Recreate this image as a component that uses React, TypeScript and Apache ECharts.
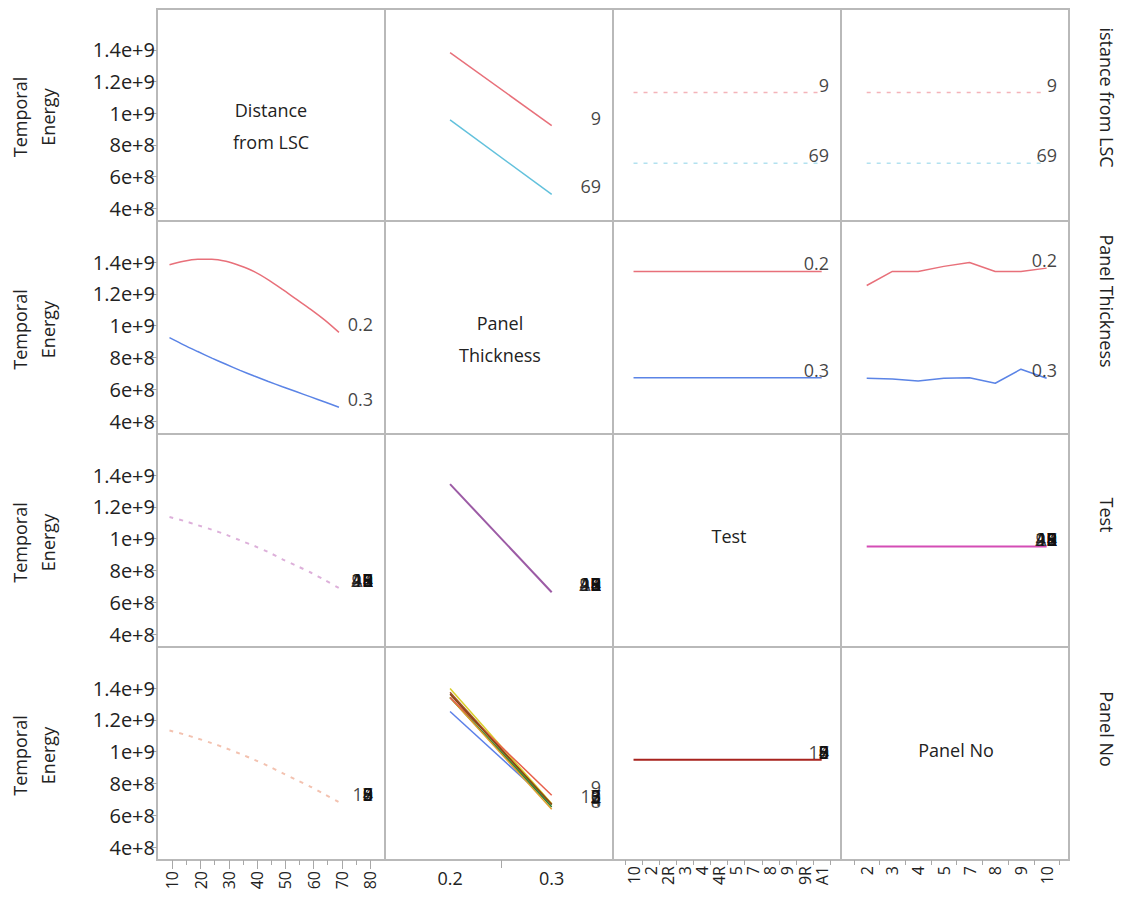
import React, { useEffect, useRef } from 'react';
import * as echarts from 'echarts';

// ---------- tick labels / categories ----------
const yTickValues = [4e8, 6e8, 8e8, 1e9, 1.2e9, 1.4e9];
const yTickLabels = ['4e+8', '6e+8', '8e+8', '1e+9', '1.2e+9', '1.4e+9'];
const distanceTicks = [10, 20, 30, 40, 50, 60, 70, 80];
const distanceMinorTicks = [15, 25, 35, 45, 55, 65, 75];
const thicknessTicks = [0.2, 0.3];
const thicknessMinorTicks = [0.25];
const testLevels = ['10', '2', '2R', '3', '4', '4R', '5', '7', '8', '9', '9R', 'A1'];
const panelLevels = ['2', '3', '4', '5', '7', '8', '9', '10'];
const distanceLevels = ['9', '69'];
const thicknessLevels = ['0.2', '0.3'];
const thicknessValues = [0.2, 0.3];
const distanceGrid = [9, 14, 19, 24, 29, 34, 39, 44, 49, 54, 59, 64, 69];

// ---------- row 1: traces by Distance from LSC ----------
const dist9ByThickness = [1.383e9, 9.22e8];
const dist69ByThickness = [9.58e8, 4.88e8];
const dist9ByTest = [1.131e9, 1.131e9, 1.131e9, 1.131e9, 1.131e9, 1.131e9, 1.131e9, 1.131e9, 1.131e9, 1.131e9, 1.131e9, 1.131e9];
const dist69ByTest = [6.85e8, 6.85e8, 6.85e8, 6.85e8, 6.85e8, 6.85e8, 6.85e8, 6.85e8, 6.85e8, 6.85e8, 6.85e8, 6.85e8];
const dist9ByPanel = [1.131e9, 1.131e9, 1.131e9, 1.131e9, 1.131e9, 1.131e9, 1.131e9, 1.131e9];
const dist69ByPanel = [6.85e8, 6.85e8, 6.85e8, 6.85e8, 6.85e8, 6.85e8, 6.85e8, 6.85e8];

// ---------- row 2: traces by Panel Thickness ----------
const thick02ByDistance = [1.383e9, 1.405e9, 1.417e9, 1.418e9, 1.405e9, 1.377e9, 1.34e9, 1.288e9, 1.228e9, 1.165e9, 1.103e9, 1.035e9, 9.58e8];
const thick03ByDistance = [9.25e8, 8.8e8, 8.38e8, 7.97e8, 7.58e8, 7.2e8, 6.84e8, 6.5e8, 6.17e8, 5.85e8, 5.53e8, 5.21e8, 4.88e8];
const thick02ByTest = [1.341e9, 1.341e9, 1.341e9, 1.341e9, 1.341e9, 1.341e9, 1.341e9, 1.341e9, 1.341e9, 1.341e9, 1.341e9, 1.341e9];
const thick03ByTest = [6.74e8, 6.74e8, 6.74e8, 6.74e8, 6.74e8, 6.74e8, 6.74e8, 6.74e8, 6.74e8, 6.74e8, 6.74e8, 6.74e8];
const thick02ByPanel = [1.253e9, 1.341e9, 1.341e9, 1.373e9, 1.397e9, 1.341e9, 1.341e9, 1.362e9];
const thick03ByPanel = [6.7e8, 6.66e8, 6.53e8, 6.7e8, 6.74e8, 6.39e8, 7.27e8, 6.7e8];

// ---------- row 3: traces by Test ----------
const testByDistance = [1.137e9, 1.113e9, 1.085e9, 1.057e9, 1.026e9, 9.9e8, 9.55e8, 9.16e8, 8.71e8, 8.3e8, 7.88e8, 7.4e8, 6.9e8];
const testByThickness = [1.343e9, 6.64e8];
const testByPanel = [9.51e8, 9.51e8, 9.51e8, 9.51e8, 9.51e8, 9.51e8, 9.51e8, 9.51e8];

// ---------- row 4: traces by Panel No ----------
const panelByDistance = [1.133e9, 1.11e9, 1.083e9, 1.054e9, 1.022e9, 9.87e8, 9.5e8, 9.1e8, 8.66e8, 8.23e8, 7.8e8, 7.32e8, 6.83e8];
const panelByTest = [9.49e8, 9.49e8, 9.49e8, 9.49e8, 9.49e8, 9.49e8, 9.49e8, 9.49e8, 9.49e8, 9.49e8, 9.49e8, 9.49e8];
const panelColors = ['#5B7FE8', '#4CA84C', '#2E7D32', '#A0522D', '#D9CF2A', '#E0A030', '#E8604C', '#8B4513'];

// ---------- layout ----------
const FONT = '"Open Sans", "Noto Sans", sans-serif';
const colLeft = [157, 385, 613, 841];
const colWidth = 228;
const rowTop = [9, 221, 434, 647];
const rowHeight = [212, 213, 213, 213];
const yMin = 3.2e8;
const yMax = 1.658e9;
const xRange = [
  [4.58, 85.3],
  [0.136, 0.3603],
  [-1.2, 12.13],
  [-1.0, 7.87],
];
const RED = '#E8707A';
const CYAN = '#62C1DC';
const BLUE = '#5B84E6';

const idx = (arr: any[]) => arr.map((_, i) => i);

export default function App() {
  const ref = useRef<HTMLDivElement>(null);
  useEffect(() => {
    if (!ref.current) return;
    const chart = echarts.init(ref.current, undefined, { renderer: 'svg' });

    const grids: any[] = [];
    const xAxes: any[] = [];
    const yAxes: any[] = [];
    for (let r = 0; r < 4; r++) {
      for (let c = 0; c < 4; c++) {
        const g = r * 4 + c;
        grids.push({
          left: colLeft[c], top: rowTop[r], width: colWidth, height: rowHeight[r],
          show: true, borderColor: '#b9b9b9', borderWidth: 2, backgroundColor: '#fff',
        });
        const bottom = r === 3;
        let tickVals: number[] = [];
        let labelVals: number[] = [];
        let fmt: any = (v: number) => String(v);
        let rotate = 0;
        let margin = 6;
        let fontSize = 16;
        let tickLen = 5;
        if (c === 0) { tickVals = distanceTicks; labelVals = distanceTicks; rotate = 90; margin = 11; tickLen = 9; }
        if (c === 1) { tickVals = thicknessMinorTicks; labelVals = thicknessTicks; rotate = 0; margin = 9; fontSize = 18; tickLen = 8; fmt = (v: number) => v.toFixed(1); }
        if (c === 2) { tickVals = testLevels.map((_, i) => i - 0.5).concat([testLevels.length - 0.5]); labelVals = idx(testLevels); rotate = 90; fmt = (v: number) => testLevels[Math.round(v)]; }
        if (c === 3) { tickVals = panelLevels.map((_, i) => i - 0.5).concat([panelLevels.length - 0.5]); labelVals = idx(panelLevels); rotate = 90; fmt = (v: number) => panelLevels[Math.round(v)]; }
        xAxes.push({
          gridIndex: g, type: 'value', position: 'bottom', min: xRange[c][0], max: xRange[c][1], show: bottom,
          axisLine: { show: false }, splitLine: { show: false },
          axisTick: { show: bottom, customValues: tickVals, length: tickLen, lineStyle: { color: '#a8a8a8', width: 1 } },
          axisLabel: { show: bottom, customValues: labelVals, formatter: fmt, rotate, margin, fontSize, fontFamily: FONT, color: '#222' },
        });
        yAxes.push({
          gridIndex: g, type: 'value', min: yMin, max: yMax, show: c === 0,
          axisLine: { show: false }, splitLine: { show: false },
          axisTick: { show: c === 0, customValues: yTickValues, length: 9, lineStyle: { color: '#a8a8a8', width: 1 } },
          axisLabel: {
            show: c === 0, customValues: yTickValues, margin: 2, fontSize: 20, fontFamily: FONT, color: '#222',
            formatter: (v: number) => yTickLabels[yTickValues.indexOf(v)] ?? '',
          },
        });
      }
    }
    // overlay grid (same rect as bottom-left panel) carrying the minor ticks of the distance axis
    grids.push({ left: colLeft[0], top: rowTop[3], width: colWidth, height: rowHeight[3], show: false });
    xAxes.push({
      gridIndex: 16, type: 'value', position: 'bottom', min: xRange[0][0], max: xRange[0][1], show: true,
      axisLine: { show: false }, splitLine: { show: false }, axisLabel: { show: false },
      axisTick: { show: true, customValues: distanceMinorTicks, length: 5, lineStyle: { color: '#a8a8a8', width: 1 } },
    });
    yAxes.push({ gridIndex: 16, type: 'value', min: yMin, max: yMax, show: false });

    const series: any[] = [];
    const line = (g: number, data: number[][], color: string, opts: any = {}) => {
      series.push({
        type: 'line', xAxisIndex: g, yAxisIndex: g, data, symbol: 'none', silent: true,
        smooth: opts.smooth ?? false,
        lineStyle: { color, width: opts.width ?? 1.5, type: opts.type ?? 'solid' },
        z: 2,
      });
    };
    const labels = (g: number, c: number, items: { name: string; value: number }[]) => {
      series.push({
        type: 'scatter', xAxisIndex: g, yAxisIndex: g, symbolSize: 0, silent: true, clip: false,
        data: items.map((it) => ({ name: it.name, value: [xRange[c][1], it.value] })),
        label: {
          show: true, position: 'left', distance: 12, offset: [0, -8], formatter: '{b}',
          fontSize: 18, fontFamily: FONT, color: '#111',
        },
        z: 5,
      });
    };
    const zipX = (xs: number[], ys: number[]) => ys.map((y, i) => [xs[i], y]);
    const testIdx = idx(testLevels);
    const panelIdx = idx(panelLevels);
    const dots = [4, 6];

    // Row 1
    line(1, zipX(thicknessValues, dist9ByThickness), RED);
    line(1, zipX(thicknessValues, dist69ByThickness), CYAN);
    labels(1, 1, [{ name: distanceLevels[0], value: dist9ByThickness[1] }, { name: distanceLevels[1], value: dist69ByThickness[1] }]);
    line(2, zipX(testIdx, dist9ByTest), '#F4B3B9', { type: dots });
    line(2, zipX(testIdx, dist69ByTest), '#B2E1EF', { type: dots });
    labels(2, 2, [{ name: distanceLevels[0], value: dist9ByTest[11] }, { name: distanceLevels[1], value: dist69ByTest[11] }]);
    line(3, zipX(panelIdx, dist9ByPanel), '#F4B3B9', { type: dots });
    line(3, zipX(panelIdx, dist69ByPanel), '#B2E1EF', { type: dots });
    labels(3, 3, [{ name: distanceLevels[0], value: dist9ByPanel[7] }, { name: distanceLevels[1], value: dist69ByPanel[7] }]);

    // Row 2
    line(4, zipX(distanceGrid, thick02ByDistance), RED, { smooth: 0.3 });
    line(4, zipX(distanceGrid, thick03ByDistance), BLUE, { smooth: 0.3 });
    labels(4, 0, [{ name: thicknessLevels[0], value: thick02ByDistance[12] }, { name: thicknessLevels[1], value: thick03ByDistance[12] }]);
    line(6, zipX(testIdx, thick02ByTest), RED);
    line(6, zipX(testIdx, thick03ByTest), BLUE);
    labels(6, 2, [{ name: thicknessLevels[0], value: thick02ByTest[11] }, { name: thicknessLevels[1], value: thick03ByTest[11] }]);
    line(7, zipX(panelIdx, thick02ByPanel), RED);
    line(7, zipX(panelIdx, thick03ByPanel), BLUE);
    labels(7, 3, [{ name: thicknessLevels[0], value: thick02ByPanel[7] }, { name: thicknessLevels[1], value: thick03ByPanel[7] }]);

    // Row 3
    line(8, zipX(distanceGrid, testByDistance), '#DDB0DA', { smooth: 0.3, type: dots, width: 2 });
    labels(8, 0, testLevels.map((n) => ({ name: n, value: testByDistance[12] })));
    line(9, zipX(thicknessValues, testByThickness), '#9C5BA5', { width: 2 });
    labels(9, 1, testLevels.map((n) => ({ name: n, value: testByThickness[1] })));
    line(11, zipX(panelIdx, testByPanel), '#D44DB5', { width: 2 });
    labels(11, 3, testLevels.map((n) => ({ name: n, value: testByPanel[7] })));

    // Row 4
    line(12, zipX(distanceGrid, panelByDistance), '#F3C2B0', { smooth: 0.3, type: dots, width: 2 });
    labels(12, 0, panelLevels.map((n) => ({ name: n, value: panelByDistance[12] })));
    panelLevels.forEach((_, i) => {
      line(13, zipX(thicknessValues, [thick02ByPanel[i], thick03ByPanel[i]]), panelColors[i]);
    });
    labels(13, 1, panelLevels.map((n, i) => ({ name: n, value: thick03ByPanel[i] })));
    line(14, zipX(testIdx, panelByTest), '#A8231E', { width: 2 });
    labels(14, 2, panelLevels.map((n) => ({ name: n, value: panelByTest[11] })));

    const rowCenter = rowTop.map((t, i) => t + rowHeight[i] / 2);
    const txt = (x: number, y: number, text: string, rotation = 0, lineHeight = 28) => ({
      type: 'text', x, y, rotation, silent: true, z: 10,
      style: { text, fontSize: 18, fontFamily: FONT, fill: '#222', align: 'center', verticalAlign: 'middle', lineHeight },
    });
    const graphic: any[] = [];
    rowCenter.forEach((cy) => graphic.push(txt(34, cy + 2, 'Temporal\nEnergy', Math.PI / 2, 28)));
    graphic.push(txt(1107, 97.5, 'istance from LSC', -Math.PI / 2));
    graphic.push(txt(1107, 301, 'Panel Thickness', -Math.PI / 2));
    graphic.push(txt(1107, 515, 'Test', -Math.PI / 2));
    graphic.push(txt(1107, 729, 'Panel No', -Math.PI / 2));
    graphic.push(txt(271, 126, 'Distance\nfrom LSC', 0, 32));
    graphic.push(txt(500, 339, 'Panel\nThickness', 0, 32));
    graphic.push(txt(729, 536, 'Test'));
    graphic.push(txt(956, 750, 'Panel No'));

    chart.setOption({
      animation: false,
      backgroundColor: '#fff',
      grid: grids,
      xAxis: xAxes,
      yAxis: yAxes,
      series,
      graphic,
    });
    return () => chart.dispose();
  }, []);
  return <div ref={ref} style={{ position: 'absolute', left: 0, top: 0, width: 1122, height: 897 }} />;
}
